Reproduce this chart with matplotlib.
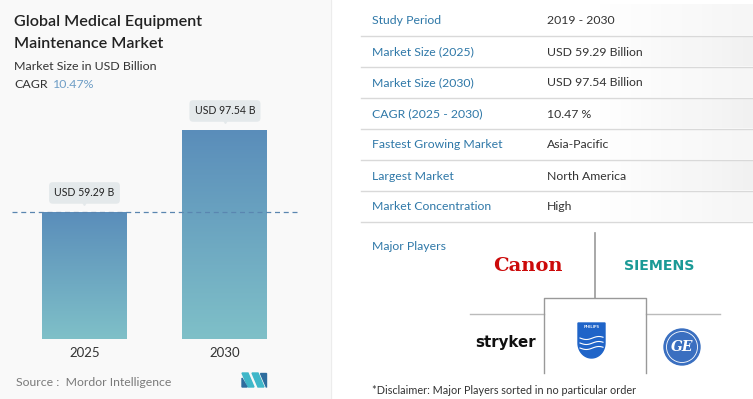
import matplotlib.pyplot as plt
import matplotlib.patches as mpatches
import matplotlib.transforms as mtransforms
import numpy as np
from matplotlib.colors import LinearSegmentedColormap

# data
years = ['2025', '2030']
market_size = [59.29, 97.54]
bar_labels = ['USD 59.29 B', 'USD 97.54 B']
cagr = '10.47%'

table_keys = ['Study Period', 'Market Size (2025)', 'Market Size (2030)', 'CAGR (2025 - 2030)',
              'Fastest Growing Market', 'Largest Market', 'Market Concentration']
table_vals = ['2019 - 2030', 'USD 59.29 Billion', 'USD 97.54 Billion', '10.47 %',
              'Asia-Pacific', 'North America', 'High']

plt.rcParams['font.family'] = ['Lato', 'DejaVu Sans']

W, H = 753, 399
fig = plt.figure(figsize=(W / 100, H / 100), dpi=100)

# overlay axes in pixel coords (y down)
bg = fig.add_axes([0, 0, 1, 1])
bg.axis('off')

# left panel light background
bg.add_patch(mpatches.Rectangle((0, 0), 331, H, color='#f9f9f9', zorder=0))
bg.plot([331, 331], [0, H], color='#ececec', lw=0.8, zorder=0.2)

# title block
bg.text(14, 22, 'Global Medical Equipment', fontsize=11.6, fontweight='semibold', color='#222222', va='center')
bg.text(14, 44, 'Maintenance Market', fontsize=11.6, fontweight='semibold', color='#222222', va='center')
bg.text(14, 66, 'Market Size in USD Billion', fontsize=8.9, color='#333333', va='center')
bg.text(14, 85, 'CAGR', fontsize=8.9, color='#333333', va='center')
bg.text(53, 85, cagr, fontsize=8.9, color='#6f9ec6', va='center')

# bar chart
ax = fig.add_axes([12 / W, 1 - 339 / H, 286 / W, (339 - 99) / H])
for s in ax.spines.values():
    s.set_visible(False)
ax.patch.set_alpha(0)
x = np.arange(len(years))
bars = ax.bar(x, market_size, width=0.605, color='none', zorder=2)
cmap = LinearSegmentedColormap.from_list('bar', ['#7fc0c8', '#5a8dba'])
grad = np.linspace(0, 1, 256).reshape(-1, 1)
for b in bars:
    x0, w, h = b.get_x(), b.get_width(), b.get_height()
    im = ax.imshow(grad, extent=[x0, x0 + w, 0, h], origin='lower', cmap=cmap,
                   aspect='auto', zorder=2)
    im.set_clip_path(b)
ax.set_xlim(-0.516, 1.52)
ax.set_ylim(0, 112)
ax.axhline(market_size[0], color='#5a86b0', lw=0.9, ls=(0, (4, 3)), zorder=3)
tri = ax.transData + mtransforms.ScaledTranslation(0, 0.10, fig.dpi_scale_trans)
for xi, v, lab in zip(x, market_size, bar_labels):
    ax.annotate(lab, (xi, v), xytext=(0, 19), textcoords='offset pixels', ha='center', va='center',
                fontsize=7.6, color='#222222', zorder=4,
                bbox=dict(boxstyle='round,pad=0.5,rounding_size=0.35', fc='#e4e9eb', ec='none'))
    ax.plot([xi], [v], marker='v', ms=4, color='#e4e9eb', zorder=4, transform=tri)
ax.set_xticks(x, years)
ax.tick_params(axis='x', length=0, pad=6, labelsize=9.5, labelcolor='#333333')
ax.set_yticks([])

# source
bg.text(16, 382, 'Source :  Mordor Intelligence', fontsize=8.8, color='#7a7a7a', va='center')
bg.add_patch(mpatches.Polygon([(242, 373), (248, 373), (254, 387), (248, 387)], color='#3fb7c9'))
bg.add_patch(mpatches.Polygon([(242, 378), (247, 387), (242, 387)], color='#2d6d9e'))
bg.add_patch(mpatches.Polygon([(252, 373), (258, 373), (264, 387), (258, 387)], color='#3fb7c9'))
bg.add_patch(mpatches.Polygon([(260, 373), (266, 373), (266, 387)], color='#2d6d9e'))

# table
row_lines = [36, 67, 98, 129, 160, 191, 222]
row_text = [21, 52, 83, 114, 145, 176, 207]
rgrad = np.linspace(0, 1, 256).reshape(1, -1)
gcmap = LinearSegmentedColormap.from_list('row', ['#ffffff', '#f0f0f0'])
for i, (k, v) in enumerate(zip(table_keys, table_vals)):
    top = row_lines[i - 1] + 1 if i > 0 else 5
    bg.imshow(rgrad, extent=[600, W, row_lines[i] - 0.5, top], cmap=gcmap, aspect='auto', zorder=0.5,
              alpha=0.9 if i % 2 == 1 else 0.6)
    bg.text(372, row_text[i], k, fontsize=8.8, color='#2f78a8', va='center')
    bg.text(547, row_text[i], v, fontsize=8.8, color='#333333', va='center')
    bg.plot([361, W], [row_lines[i], row_lines[i]], color='#d9d9d9', lw=1, zorder=1)

# major players
bg.text(372, 246, 'Major Players', fontsize=8.8, color='#2f78a8', va='center')
bg.plot([595, 595], [233, 298], color='#999999', lw=1.2)
bg.plot([470, 544], [314, 314], color='#bbbbbb', lw=1)
bg.plot([646, 720], [314, 314], color='#bbbbbb', lw=1)
bg.plot([544, 544, 646, 646], [373, 298, 298, 373], color='#999999', lw=1)

bg.text(528, 266, 'Canon', fontsize=14, fontweight='bold', family='DejaVu Serif', color='#cc0a0a',
        ha='center', va='center')
bg.text(659, 266, 'SIEMENS', fontsize=10.2, fontweight='heavy', family='DejaVu Sans', color='#1a9a96',
        ha='center', va='center')
bg.text(506, 343, 'stryker', fontsize=10.8, fontweight='bold', family='DejaVu Sans', color='#111111',
        ha='center', va='center')

# philips shield
t = np.linspace(0, np.pi, 30)
shield = [(578, 323), (605, 323), (605, 343)] + \
         [(591.5 + 13.5 * np.cos(a), 343 + 15 * np.sin(a)) for a in t] + [(578, 343)]
bg.add_patch(mpatches.Polygon(shield, closed=True, color='#1f64c8'))
bg.text(591.5, 327, 'PHILIPS', fontsize=3.2, fontweight='bold', color='white', ha='center', va='center')
wx = np.linspace(580, 603, 40)
for yy in (338, 343, 348):
    bg.plot(wx, yy + 1.5 * np.sin((wx - 580) / 4), color='white', lw=0.8)

# GE
bg.add_patch(mpatches.Circle((682, 347), 18, color='#3a6fc0'))
bg.add_patch(mpatches.Circle((682, 347), 15.5, fill=False, ec='white', lw=0.6))
bg.text(682, 347, 'GE', fontsize=10, style='italic', fontweight='bold', family='DejaVu Serif',
        color='white', ha='center', va='center')

bg.text(372, 390, '*Disclaimer: Major Players sorted in no particular order', fontsize=7.8,
        color='#333333', va='center')

bg.set_xlim(0, W)
bg.set_ylim(H, 0)

fig.savefig('out.png', dpi=100)
